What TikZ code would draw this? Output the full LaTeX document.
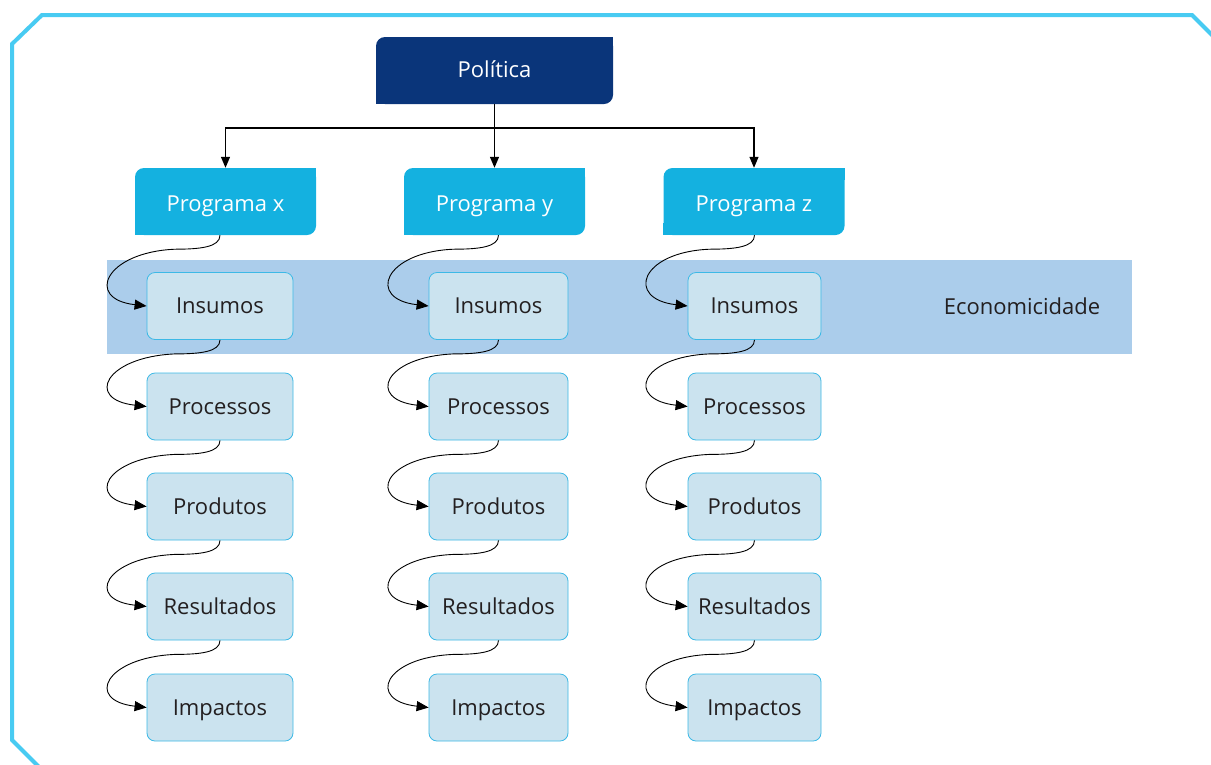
\documentclass[tikz,border=0pt]{standalone}
\usepackage{fontspec}
\setmainfont{Open Sans}
\usetikzlibrary{arrows.meta,calc}
\definecolor{framec}{HTML}{48CBF2}
\definecolor{navy}{HTML}{0A357A}
\definecolor{progc}{HTML}{14B1E0}
\definecolor{bandc}{HTML}{ABCDEB}
\definecolor{boxfill}{HTML}{CBE3EF}
\definecolor{boxline}{HTML}{3DB9E6}
\definecolor{txt}{HTML}{231F20}
\newcommand\stagelink[2]{%
  \coordinate (s) at (#2.north |- #1.south);
  \draw[flow] (s) .. controls +(0,12) and +(25,0) .. ($(s)+(-45,14)$)
     .. controls +(-70,3) and +(-62,-7) .. (#2.west);
}
\begin{document}
\begin{tikzpicture}[x=1pt,y=-1pt,
  font=\fontsize{22}{26}\selectfont,
  polbox/.style={fill=navy, text=white, minimum width=237pt, minimum height=67pt, rounded corners=9pt, inner sep=0pt, text height=15pt, text depth=1pt},
  progbox/.style={fill=progc, text=white, minimum width=181pt, minimum height=67pt, rounded corners=9pt, inner sep=0pt, text height=20pt, text depth=1pt},
  stagebox/.style={fill=boxfill, draw=boxline, line width=0.8pt, text=txt, minimum height=67pt, rounded corners=8pt, inner sep=0pt, text height=17pt, text depth=2pt},
  tree/.style={line width=1.3pt, -{Triangle[length=11pt,width=9pt]}},
  flow/.style={line width=0.9pt, -{Triangle[length=12pt,width=10pt]}},
]
\useasboundingbox (0,0) rectangle (1211,764);
\clip (0,0) rectangle (1211,764);
\fill[white] (0,0) rectangle (1211,764);
% frame
\draw[framec, line width=4pt] (46,774) -- (12,740) -- (12,44) -- (42,15) -- (1192,15) -- (1222,45);
% band
\fill[bandc] (107,260) rectangle (1132,354);
\node[text=txt, text height=17pt, text depth=2pt, inner sep=0pt] (eco) at (1022,307) {Economicidade};
% top
\node[polbox] (pol) at (494.5,70.5) {Política};
\node[progbox] (progx) at (225.5,201.5) {Programa x};
\node[progbox] (progy) at (494.5,201.5) {Programa y};
\node[progbox] (progz) at (754,201.5) {Programa z};
\foreach \n/\c in {pol/navy,progx/progc,progy/progc,progz/progc}{
  \fill[\c] (\n.north east) rectangle ++(-12,12);
  \fill[\c] (\n.south west) rectangle ++(12,-12);
}
\coordinate (j) at ($(pol.south)!0.375!(progy.north)$);
\draw[tree] (pol.south) -- (progy.north);
\draw[tree] (j) -| (progx.north);
\draw[tree] (j) -| (progz.north);
% stages
\foreach \c/\x/\w in {a/220/146, b/498.5/139, c/754.5/133}{
  \foreach \r/\y/\t in {1/306/Insumos, 2/406.5/Processos, 3/506.5/Produtos, 4/606.5/Resultados, 5/707.5/Impactos}{
    \node[stagebox, minimum width=\w pt] (\c\r) at (\x,\y) {\t};
  }
}
\foreach \c/\p in {a/progx, b/progy, c/progz}{
  \stagelink{\p}{\c1}
  \stagelink{\c1}{\c2}
  \stagelink{\c2}{\c3}
  \stagelink{\c3}{\c4}
  \stagelink{\c4}{\c5}
}
\end{tikzpicture}
\end{document}
